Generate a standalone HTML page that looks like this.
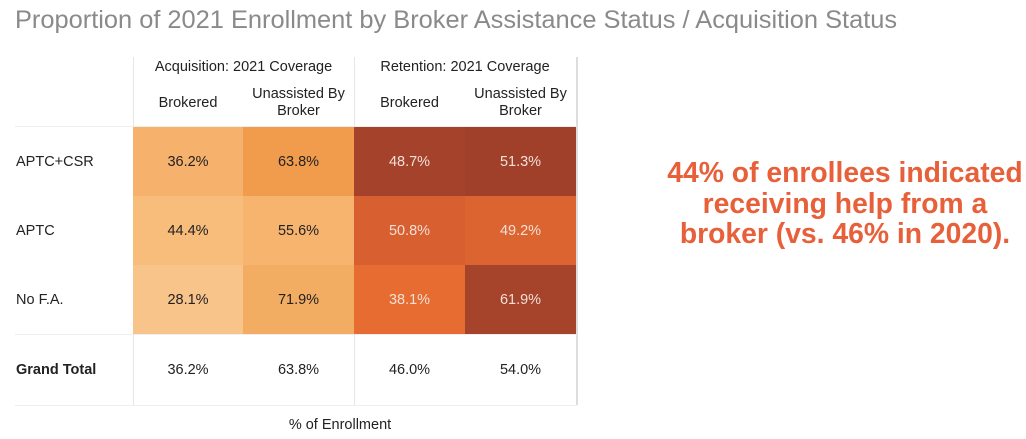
<!DOCTYPE html>
<html><head><meta charset="utf-8"><style>
body{margin:0;width:1026px;height:439px;background:#fff;font-family:"Liberation Sans",sans-serif;position:relative;overflow:hidden}
.t{position:absolute;left:15px;top:6px;font-size:25.4px;color:#8a8a8a;white-space:nowrap}
.a{position:absolute;font-size:14.5px;color:#222;text-align:center;line-height:17px}
.c{position:absolute;display:flex;align-items:center;justify-content:center;font-size:14.5px;color:#222}
.w{color:#f4e0d6}
.r{position:absolute;left:16px;font-size:14.5px;color:#222}
.big{position:absolute;left:640px;top:157px;width:410px;text-align:center;color:#e8603a;font-weight:bold;font-size:28.3px;line-height:30.5px;white-space:nowrap}
</style></head><body>
<div class="t">Proportion of 2021 Enrollment by Broker Assistance Status / Acquisition Status</div>
<div style="position:absolute;left:133px;top:57px;width:1px;height:70px;background:#e6e6e6"></div>
<div style="position:absolute;left:354px;top:57px;width:1px;height:70px;background:#e6e6e6"></div>
<div style="position:absolute;left:576px;top:57px;width:2px;height:348px;background:#ddd"></div>
<div style="position:absolute;left:15px;top:126px;width:562px;height:1px;background:#eee"></div>
<div class="a" style="left:133px;top:59px;width:221px">Acquisition: 2021 Coverage</div>
<div class="a" style="left:354px;top:59px;width:222px">Retention: 2021 Coverage</div>
<div class="a" style="left:133px;top:95px;width:110px">Brokered</div>
<div class="a" style="left:243px;top:86px;width:111px">Unassisted By<br>Broker</div>
<div class="a" style="left:354px;top:95px;width:111px">Brokered</div>
<div class="a" style="left:465px;top:86px;width:111px">Unassisted By<br>Broker</div>

<div class="r" style="top:154px">APTC+CSR</div>
<div class="r" style="top:223px">APTC</div>
<div class="r" style="top:292px">No F.A.</div>
<div class="r" style="top:362px;font-weight:bold">Grand Total</div>

<div class="c" style="left:133px;top:127px;width:110px;height:69px;background:#f6b26d">36.2%</div>
<div class="c" style="left:243px;top:127px;width:111px;height:69px;background:#f09c4c">63.8%</div>
<div class="c w" style="left:354px;top:127px;width:111px;height:69px;background:#a4422b">48.7%</div>
<div class="c w" style="left:465px;top:127px;width:111px;height:69px;background:#a0402a">51.3%</div>

<div class="c" style="left:133px;top:196px;width:110px;height:69px;background:#f8bc7b">44.4%</div>
<div class="c" style="left:243px;top:196px;width:111px;height:69px;background:#f6b46f">55.6%</div>
<div class="c w" style="left:354px;top:196px;width:111px;height:69px;background:#d85f2f">50.8%</div>
<div class="c w" style="left:465px;top:196px;width:111px;height:69px;background:#dc6431">49.2%</div>

<div class="c" style="left:133px;top:265px;width:110px;height:69px;background:#f9c48a">28.1%</div>
<div class="c" style="left:243px;top:265px;width:111px;height:69px;background:#f3ad63">71.9%</div>
<div class="c w" style="left:354px;top:265px;width:111px;height:69px;background:#e66c32">38.1%</div>
<div class="c w" style="left:465px;top:265px;width:111px;height:69px;background:#a6432b">61.9%</div>

<div style="position:absolute;left:15px;top:334px;width:562px;height:1px;background:#eee"></div>
<div style="position:absolute;left:133px;top:334px;width:1px;height:71px;background:#e6e6e6"></div>
<div style="position:absolute;left:354px;top:334px;width:1px;height:71px;background:#e6e6e6"></div>
<div style="position:absolute;left:15px;top:405px;width:562px;height:1px;background:#eee"></div>
<div class="c" style="left:133px;top:334px;width:110px;height:71px">36.2%</div>
<div class="c" style="left:243px;top:334px;width:111px;height:71px">63.8%</div>
<div class="c" style="left:354px;top:334px;width:111px;height:71px">46.0%</div>
<div class="c" style="left:465px;top:334px;width:111px;height:71px">54.0%</div>

<div class="a" style="left:240px;top:417px;width:200px">% of Enrollment</div>
<div class="big">44% of enrollees indicated<br>receiving help from a<br>broker (vs. 46% in 2020).</div>
</body></html>
